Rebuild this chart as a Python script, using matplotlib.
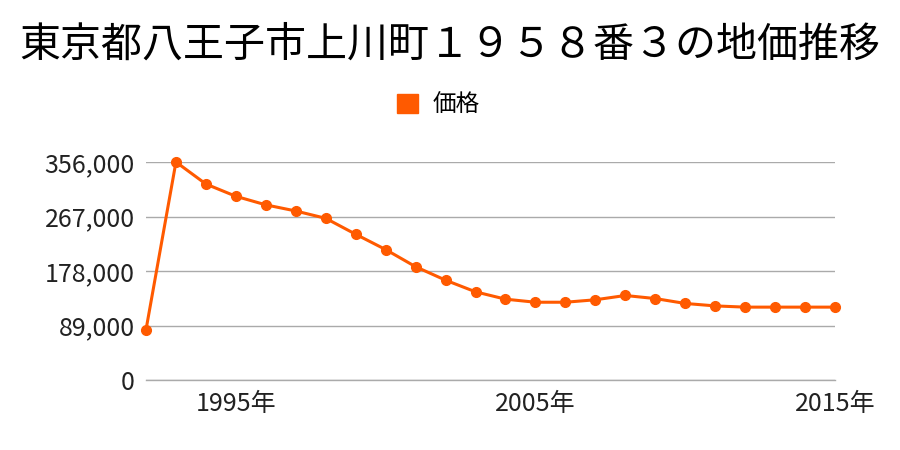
import matplotlib.pyplot as plt

plt.rcParams['font.family'] = ['Noto Sans CJK JP', 'DejaVu Sans']

years = list(range(1992, 2016))
price = [82000, 356000, 320000, 300000, 286000, 276000, 264000, 238000,
         213000, 185000, 163000, 144000, 132000, 127000, 127000, 131000,
         138000, 133000, 125000, 121000, 119000, 119000, 119000, 119000]
yticks = [0, 89000, 178000, 267000, 356000]
xticks = [1995, 2005, 2015]
title = '東京都八王子市上川町１９５８番３の地価推移'
series_name = '価格'
color = '#ff5a00'

fig = plt.figure(figsize=(9, 4.5), dpi=100)
ax = fig.add_axes([146/900, 1-380/450, (835-146)/900, (380-162)/450])

ax.plot(years, price, color=color, lw=2.2, marker='o', ms=7, clip_on=False,
        label=series_name, zorder=3)

ax.set_xlim(1992, 2015)
ax.set_ylim(0, 356000)
ax.set_yticks(yticks)
ax.set_yticklabels(['{:,}'.format(v) for v in yticks])
ax.set_xticks(xticks)
ax.set_xticklabels([str(x) + '年' for x in xticks])
ax.grid(axis='y', color='#aaaaaa', lw=1)
ax.axhline(0, color='#aaaaaa', lw=1, clip_on=False, zorder=1)
ax.set_axisbelow(True)
for s in ax.spines.values():
    s.set_visible(False)
ax.tick_params(length=0, labelsize=18, colors='#222222')
ax.tick_params(axis='y', pad=8)
ax.tick_params(axis='x', pad=8)

fig.text(0.5, 1-45/450, title, ha='center', va='center', fontsize=29.5)

leg_handle = plt.Rectangle((0, 0), 1, 1, color=color)
fig.legend([leg_handle], [series_name], loc='center', bbox_to_anchor=(0.487, 1-105/450),
           frameon=False, fontsize=17, handlelength=0.9, handleheight=0.9, handletextpad=0.6)

fig.savefig('out.png')
